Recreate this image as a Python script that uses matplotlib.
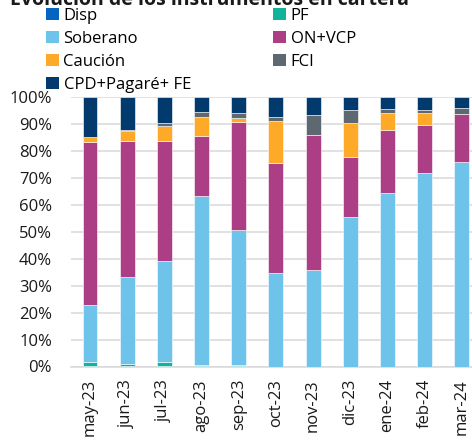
import numpy as np
import matplotlib.pyplot as plt
from matplotlib.patches import Patch

plt.rcParams['font.family'] = ['Open Sans', 'DejaVu Sans']

meses = ['may-23', 'jun-23', 'jul-23', 'ago-23', 'sep-23', 'oct-23',
         'nov-23', 'dic-23', 'ene-24', 'feb-24', 'mar-24']

# participacion en cartera (%)
disp = [0.3, 0.2, 0.2, 0.1, 0.1, 0, 0, 0, 0, 0, 0]
pf = [1.5, 0.8, 1.5, 0.5, 0.5, 0, 0, 0, 0, 0, 0]
soberano = [21.0, 32.1, 37.6, 62.8, 50.0, 34.8, 35.9, 55.6, 64.4, 71.9, 76.0]
on_vcp = [60.6, 50.7, 44.5, 22.0, 40.1, 40.7, 49.9, 22.1, 23.5, 17.8, 17.6]
caucion = [1.6, 3.5, 5.6, 7.3, 1.6, 15.6, 0, 12.8, 6.3, 4.5, 0]
fci = [0.2, 0.3, 1.0, 1.7, 1.7, 1.4, 7.5, 4.7, 1.3, 0.9, 2.3]
cpd = [14.8, 12.4, 9.6, 5.6, 6.0, 7.5, 6.7, 4.8, 4.5, 4.9, 4.1]

series = [
    ('Disp', disp, '#0563C1'),
    ('PF', pf, '#12B39B'),
    ('Soberano', soberano, '#6EC3EA'),
    ('ON+VCP', on_vcp, '#AB3E84'),
    ('Caución', caucion, '#FFA928'),
    ('FCI', fci, '#5E6870'),
    ('CPD+Pagaré+ FE', cpd, '#033A6E'),
]

fig = plt.figure(figsize=(4.72, 4.41), dpi=100)
ax = fig.add_axes([71.4 / 472, 1 - 366.5 / 441, 409 / 472, 269.5 / 441])

x = np.arange(len(meses))
base = np.zeros(len(meses))
for name, vals, col in series:
    v = np.array(vals) / 100.0
    ax.bar(x, v, width=0.4, bottom=base, color=col, edgecolor='white',
           linewidth=0.4, zorder=3)
    base += v

ax.set_xlim(-0.5, 10.5)
ax.set_ylim(0, 1)
ax.set_yticks(np.arange(0, 1.01, 0.1))
ax.set_yticklabels(['{:d}%'.format(int(round(t * 100))) for t in np.arange(0, 1.01, 0.1)])
ax.set_xticks(x)
ax.set_xticklabels(meses, rotation=90)
ax.tick_params(axis='y', length=0, pad=14, labelsize=12, colors='#1a1a1a')
ax.tick_params(axis='x', length=0, pad=9, labelsize=12, colors='#1a1a1a')
ax.grid(axis='y', color='#D9D9D9', linewidth=1.1, zorder=0)
ax.set_axisbelow(True)
for s in ['top', 'right', 'left']:
    ax.spines[s].set_visible(False)
ax.spines['bottom'].set_color('#D9D9D9')
ax.spines['bottom'].set_linewidth(1.1)

fig.text(10 / 472, 1 - 5 / 441, 'Evolución de los instrumentos en cartera',
         fontsize=14, fontweight='bold', color='#1a1a1a', va='baseline')

order = [0, 2, 4, 6, 1, 3, 5]
handles = [Patch(facecolor=series[i][2], edgecolor='none') for i in order]
labels = [series[i][0] for i in order]
fig.legend(handles, labels, ncol=2, loc='upper left',
           bbox_to_anchor=(46 / 472, 1 - 8 / 441), frameon=False,
           fontsize=12, handlelength=0.75, handleheight=0.75,
           handletextpad=0.3, labelspacing=0.42, columnspacing=4.95,
           borderpad=0, borderaxespad=0)

fig.savefig('out.png', dpi=100)
